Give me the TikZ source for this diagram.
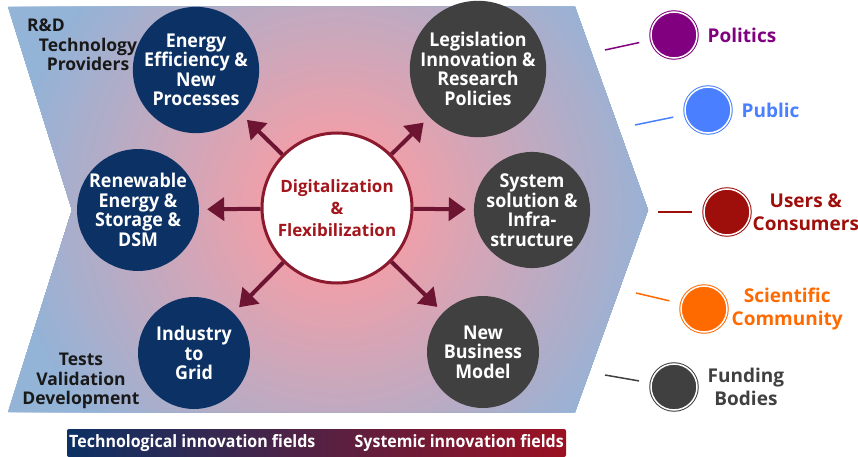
\documentclass[tikz,border=0pt]{standalone}
\usepackage{fontspec}
\setmainfont{Open Sans}
\newfontfamily\narrowfont{Open Sans}[FakeStretch=0.94]
\usetikzlibrary{positioning,arrows.meta,shapes.geometric}
\definecolor{navyfield}{HTML}{0C3164}
\definecolor{slatefield}{HTML}{404040}
\definecolor{spokered}{HTML}{6C1432}
\definecolor{hubring}{HTML}{8C1A2E}
\definecolor{hubtext}{HTML}{A3161C}
\definecolor{hubpink}{HTML}{EDA0AA}
\definecolor{hubblue}{HTML}{93B3D7}
\definecolor{politicscol}{HTML}{800080}
\definecolor{publiccol}{HTML}{4A80FF}
\definecolor{userscol}{HTML}{9E0F0C}
\definecolor{sciencecol}{HTML}{FF6A00}
\definecolor{fundingcol}{HTML}{404040}
\definecolor{barred}{HTML}{9C1122}
\tikzset{
  hub/.style={circle,draw=hubring,line width=3pt,fill=white,minimum size=150pt,inner sep=0pt,align=center,text=hubtext,font=\fontsize{17}{22}\selectfont\bfseries},
  field/.style={circle,minimum size=112pt,inner sep=0pt,align=center,text=white,font=\narrowfont\fontsize{19}{19.5}\selectfont\bfseries},
  techfield/.style={field,fill=navyfield},
  sysfield/.style={field,fill=slatefield},
  spoke/.style={-{Triangle[length=17pt,width=23pt]},line width=4pt,draw=spokered,shorten >=8pt},
  actor/.style={circle,minimum size=46pt,inner sep=0pt,line width=1pt,draw=#1,fill=#1,double=white,double distance=1.5pt},
  actorlabel/.style={inner sep=0pt,align=center,font=\fontsize{19}{23}\selectfont\bfseries},
  tie/.style={draw=#1,line width=1.5pt,shorten >=12pt},
  sidelabel/.style={inner sep=0pt,align=center,text=black!90,font=\fontsize{17.5}{19.5}\selectfont\bfseries},
  barlabel/.style={inner sep=0pt,text=white,font=\narrowfont\fontsize{17}{20}\selectfont\bfseries}
}
\begin{document}
\begin{tikzpicture}[x=1pt,y=-1pt]
	\useasboundingbox (0,0) rectangle (858,457);
	
	% arrow shaped background, glowing from the middle
	\coordinate (glow) at (337,208);
	\begin{scope}
		\clip (8,7) -- (575,7) -- (648,210) -- (575,412) -- (8,412) -- (72,210) -- cycle;
		\foreach \r in {400,395,...,10}{
			\pgfmathsetmacro\p{min(100,max(0,(\r-80)/2.5))}
			\fill[hubblue!\p!hubpink] (glow) circle[radius=\r pt];
		}
	\end{scope}
	
	\node[hub] (dig) at (glow) {Digitalization\\\&\\Flexibilization};
	
	\node[techfield] (eff) at (196,70) {Energy\\Efficiency \&\\New\\Processes};
	\node[techfield] (ren) at (138,210) {Renewable\\Energy \&\\Storage \&\\DSM};
	\node[techfield] (ind) at (194,353) {Industry\\to\\Grid};
	\node[sysfield] (leg) at (478,69) {Legislation\\Innovation \&\\Research\\Policies};
	\node[sysfield] (sys) at (532,210) {System\\solution \&\\Infra-\\structure};
	\node[sysfield] (biz) at (483,352) {New\\Business\\Model};
	
	\foreach \f in {eff,ren,ind,leg,sys,biz}
		\draw[spoke] (dig) -- (\f);
	
	\node[sidelabel] (rnd) at (88,45) {R\&D\hspace*{84pt}\\Technology\\Providers};
	\node[sidelabel] (tests) at (81,381) {Tests\\Validation\\Development};
	
	% actors on the right
	\node[actor=politicscol] (pol) at (674,35) {};
	\node[actorlabel,text=politicscol,right=10pt of pol] (pollabel) {Politics};
	\node[actor=publiccol] (pub) at (708,110) {};
	\node[actorlabel,text=publiccol,right=10pt of pub] (publabel) {Public};
	\node[actor=userscol] (usr) at (727,212) {};
	\node[actorlabel,text=userscol,right=2pt of usr] (usrlabel) {Users \&\\Consumers};
	\node[actor=sciencecol] (sci) at (704,309) {};
	\node[actorlabel,text=sciencecol,right=4pt of sci] (scilabel) {Scientific\\Community};
	\node[actor=fundingcol] (fund) at (674,387) {};
	\node[actorlabel,text=fundingcol,right=10pt of fund] (fundlabel) {Funding\\Bodies};
	
	\coordinate (pol-end) at (605,50);
	\coordinate (pub-end) at (635,125);
	\coordinate (usr-end) at (658,212);
	\coordinate (sci-end) at (636,293);
	\coordinate (fund-end) at (605,375);
	\draw[tie=politicscol] (pol-end) -- (pol);
	\draw[tie=publiccol] (pub-end) -- (pub);
	\draw[tie=userscol] (usr-end) -- (usr);
	\draw[tie=sciencecol] (sci-end) -- (sci);
	\draw[tie=fundingcol] (fund-end) -- (fund);
	
	% legend bar
	\shade[left color=navyfield,right color=barred,rounded corners=2pt] (67,429) rectangle (566,457);
	\node[barlabel,anchor=west] (techbar) at (69,443) {Technological innovation fields};
	\node[barlabel,anchor=east] (sysbar) at (564,443) {Systemic innovation fields};
\end{tikzpicture}
\end{document}
